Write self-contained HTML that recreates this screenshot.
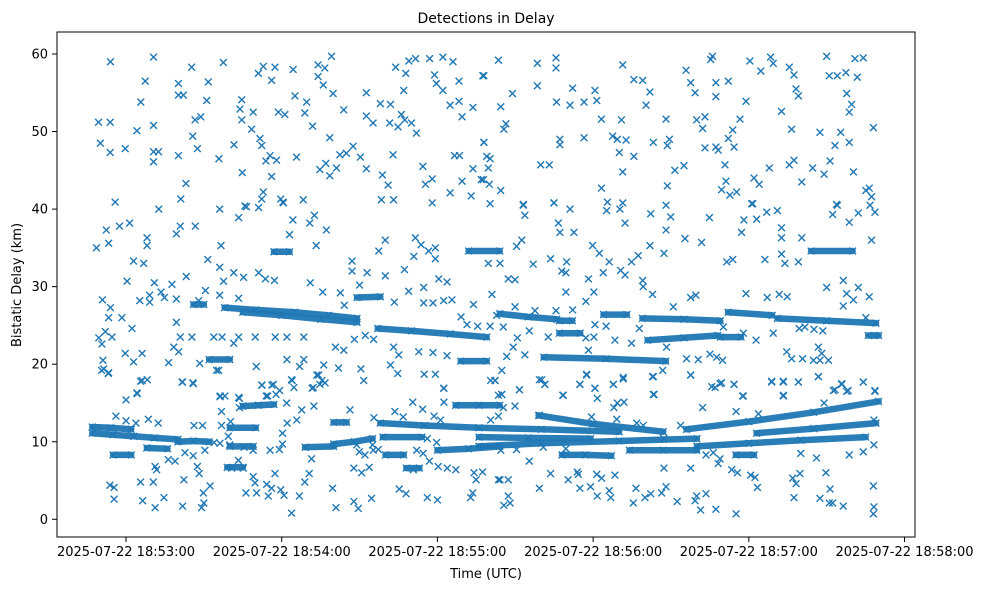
<!DOCTYPE html>
<html><head><meta charset="utf-8"><style>
html,body{margin:0;padding:0;background:#fff;}
svg{display:block;font-family:"DejaVu Sans","Liberation Sans",sans-serif;}
</style></head><body>
<svg id="chart" width="989" height="590" viewBox="0 0 989 590" xmlns="http://www.w3.org/2000/svg">
<rect width="989" height="590" fill="#fff"/>
<text x="486" y="23" font-size="14" text-anchor="middle" fill="#000">Detections in Delay</text>
<g id="marks"></g>
<rect x="57" y="32" width="858" height="505" fill="none" stroke="#000" stroke-width="1"/>
<g id="xaxis"></g>
<g id="yaxis"></g>
<text x="486" y="578" font-size="13" text-anchor="middle">Time (UTC)</text>
<text x="21" y="285" font-size="13" text-anchor="middle" transform="rotate(-90 21 285)">Bistatic Delay (km)</text>
</svg>
<script>
// time = seconds after 18:52:00 UTC, delay in km
const xTickSeconds = [60,120,180,240,300,360];
const xTickLabels = ["2025-07-22 18:53:00","2025-07-22 18:54:00","2025-07-22 18:55:00","2025-07-22 18:56:00","2025-07-22 18:57:00","2025-07-22 18:58:00"];
const yTickValues = [0,10,20,30,40,50,60];
const yTickLabels = ["0","10","20","30","40","50","60"];

// dense tracks (keypoints)
const trackTimes = [
[47,54,62],[47,55,63,71,80],[80,86,92],[55,62],[68,76],[100,110],[105,111,117],[100,109],[129,140],[140,148,155],
[158,175,196,220,250],[219,240,267],[276,300,325,350],[159,174],[180,192,204],[196,215,239],[196,220,250,280],[254,267,280],
[280,300,320,345],[303,325,349],[228,237,247],[295,302],[187,196,204],[140,145],[168,173],[99,105],[160,167],
[98,110,125,138,149],[105,120,135,149],[157,170,185,199],[149,158],[117,123],[192,204],[92,100],[189,199],[86,90],
[204,215,226],[227,232],[227,235],[221,245,268],[244,253],[259,275,289],[261,275,288],[289,297],[292,309],[311,330,349],[324,340],[346,350]
];
const trackDelays = [
[11.9,11.8,11.6],[11.1,10.9,10.7,10.5,10.3],[10.0,10.1,10.0],[8.3,8.3],[9.2,9.1],[11.8,11.8],[14.6,14.7,14.8],[9.4,9.4],[9.3,9.4],[9.7,10.0,10.4],
[12.4,12.1,11.8,11.6,11.3],[13.4,12.3,11.3],[11.6,12.6,13.8,15.2],[10.6,10.6],[8.9,9.1,9.4],[10.6,10.5,10.4],[9.4,9.8,10.1,10.4],[8.9,8.9,8.9],
[9.4,9.8,10.2,10.6],[11.1,11.7,12.4],[8.3,8.3,8.2],[8.3,8.3],[14.7,14.7,14.7],[12.5,12.5],[6.6,6.6],[6.7,6.7],[8.3,8.3],
[27.3,27.0,26.7,26.3,25.9],[26.7,26.3,25.8,25.4],[24.6,24.3,23.9,23.5],[28.6,28.7],[34.5,34.5],[34.6,34.6],[20.6,20.6],[20.4,20.4],[27.7,27.7],
[26.5,26.1,25.8],[25.6,25.6],[24.0,24.0],[20.9,20.7,20.4],[26.4,26.4],[25.9,25.8,25.6],[23.1,23.4,23.7],[23.5,23.5],[26.7,26.3],[25.9,25.6,25.3],[34.6,34.6],[23.7,23.7]
];

// isolated detections
const noiseTimes = [
54,70.6,67.4,85.3,97.5,80.2,91.7,80.2,82.1,65.7,91.1,112.9,111,117.4,116.1,124.4,134,139.2,136.6,134,136,139.8,125.1,129.6,104.6,103.9,109,118.7,121.2,128.9,49.4,53.9,64.2,70.6,86.6,88.8,104.6,108.4,111.6,112.3,85.7,50.1,53.9,59.7,70.6,72.5,70.6,80.2,87.5,95.8,101.6,104.8,83.1,115.5,113.9,118,125.7,116.1,131.9,138.5,143.9,152.6,152.6,155.2,158,161.9,161.6,164.8,166.1,167.4,170,171.9,163.9,167.8,169,171.6,177,182.1,186,178.9,179.6,182.1,188.3,167,184.9,188.3,193.7,189.5,197.5,147.5,142.4,144.9,150.3,152.6,162.9,141.1,137,134.7,138.5,158.8,161,174.4,178,175.4,186.6,188.5,193.7,189.5,196.9,197.9,184.9,158.4,163.1,178,193,55.8,81.1,112.9,112.3,119.6,120.6,128.3,105.8,
197.9,203.5,218.5,225.7,225.7,218.5,208.9,204.4,206.4,205.6,197.9,199,200.3,199.6,197.7,200,204.4,225.9,231.1,236.5,232.1,240.7,241.4,251.4,255.7,259.1,261.9,260.4,227.2,227.2,236.5,243.2,250.9,247.5,249.3,252.7,250.1,255.7,219.8,223.1,251.4,243.2,245.5,251.4,224.9,213.1,200.3,263.2,269.4,268.6,268.1,275.8,277.6,279.3,286,285.3,287.3,292.1,287.3,298.9,279.9,283.1,282.2,296.6,293.8,292.1,294.3,283.1,287.3,288.2,271.5,275,290.8,291.2,289.5,292.7,295.3,268.6,300.4,304.6,308.4,309.4,315.6,317.4,318.2,319.1,330,331,334.1,337.4,341.8,340.9,344.1,337.7,339.6,338.7,312.6,316.5,327.4,335.4,333.2,338.7,348,302,304,307.9,315.6,317.4,324.6,320.4,329,331.3,340.3,345.1,346.4,347.3,301.1,333.8,
72.6,96.1,103.4,106.4,111.1,120.5,52.4,57.5,61.4,48.6,53.3,68.1,68.1,79.4,80.9,86.7,96.6,124.3,123,130.8,132.6,137.2,133.3,62.9,66.8,91.5,96.1,60.4,70.9,77.7,83.2,101.5,105.3,111.1,113.7,117.2,97.6,50.9,54,65.3,69.1,69.1,73.5,74.8,79.4,90.6,96.1,103.4,88,53.3,58.4,62.3,52,49.5,54.6,50.7,79.4,80.9,85.4,93.8,97,103.4,101.5,109.8,117.5,122,128.5,78.4,80.3,59.7,66.2,62.9,51.1,51.4,53.3,76.4,88.4,95.7,110.2,122,128.5,126.9,131,135.8,142.6,144.1,147.1,147.1,152.9,150,159.9,157.4,159.9,167.3,171.5,173.7,170.9,176.6,179.2,179.2,168.9,174.7,180.5,183.7,163.4,174.7,178.3,182.4,185.6,193.9,189.1,191.4,195.5,140.7,143.9,148,152.2,155.4,163.1,165.1,161.9,172.8,178.3,183.7,150.5,151.6,164.7,174.9,179.2,182.4,141.9,136.2,134.2,135.5,131.7,124,112.4,116.2,119.2,81.6,85.8,66.2,64.2,96.3,103.4,114.6,
213.1,213.7,224.9,231.1,226.6,227.2,232.6,245.2,250.3,252.3,262.2,268.1,269.9,268.1,284.8,275.4,281.8,297.2,298.1,303,306.9,311,301.5,312.6,312.6,320.4,332.3,334.1,338.7,342.2,348.6,346.7,347.3,212.5,210.5,199.6,204.1,216.9,223.6,229.8,227.9,229.5,239.8,242.4,246.2,243.9,250.6,252.3,254.8,257.4,261.9,267.3,291.5,293.8,306.2,312.6,313.9,319.1,207.3,209.9,238.2,259.1,259.3,330,336.4,342.2,337.7,340.3,336.4,346.4,201,229.5,237.2,240.3,262.9,277.6,279.6,298.9,307.1,311.7,314.8,328.5,345.1,348.6,209.9,217.6,225.7,232.1,202.8,200.3,205.4,215.4,210.8,222.7,240.3,237.2,248.4,254.8,257.8,209.2,206.7,213.7,238.2,240.7,245,270.9,290.2,297.9,302.8,309.4,321.6,325.1,319.4,314.6,316.5,320.7,326.8,328.1,324.9,330.7,327.4,268.3,276,280.5,285,287.6,289.9,266.8,263.2,277.6,237.5,234.9,240.7,247.8,251.6,220.2,221.4,202.2,211.6,204.8,228.5,263.2,287,289.5,294.3,297.9,308.8,313.3,319.1,313.3,326.8,332.6,335.8,337.7,344.1,348.6,
50.6,53.2,60,64.3,65.6,68.2,81.8,85.9,94.9,96.2,98.1,96.8,103.7,103.7,112.3,116.8,114,117.8,121.9,123.8,124.7,133.5,134.7,136.7,132.2,56.1,60,63.8,68.6,72.4,127.7,132.4,125.8,122.1,120.3,120.3,119.1,115.5,109,105.5,100,96.2,93.9,99.4,96.8,100.3,86.2,89.5,90.4,85.9,87.5,88.2,82.7,76.3,78.9,71.2,71.8,65.6,70.5,82.3,53.8,55.4,55.4,66.4,71.2,74.6,81.8,89.1,90,89.8,92.4,103.3,105.2,100.7,109,109.7,106.2,110.3,114.2,117.4,116.1,114.8,119.6,120.9,123.8,126.8,128.9,130.6,131.5,139.6,140.9,147.8,147.8,149.5,150.8,153.7,154.6,146.3,155.5,163.6,170.5,174.3,182.5,182.5,178.7,166.8,176.1,176.9,180.3,183.8,187.1,176.1,180,173,170.7,165.3,167.9,194.1,192.8,193.6,194.9,197.4,203.5,200.5,203.5,179.7,172,174.5,149.9,152.1,155.3,157.2,155,148.9,181.2,200.5,
202.2,204.8,204.8,211.6,209.9,219.3,221.4,228.3,234.9,237.5,240.7,241.6,247.8,251.6,249.3,251.9,263.5,262.9,277.6,248,282.2,285.7,288.9,294.3,297.6,295.1,303.7,308.8,313.3,313.3,319.1,326.8,333.2,335.8,338.3,344.1,348.6,329,215.4,223.6,230.4,234.3,233.9,241.4,243.3,248.4,204.1,207.3,207.3,205.6,208,219.3,234.9,239,241.6,246.2,246.8,255.5,256.5,260,262.2,266.4,268.1,267.3,277.6,272.4,279.3,279.9,283.5,281.4,287.3,295.1,293.4,295.6,300.7,302.4,303.3,316.9,318.2,319.7,317.4,326.1,329.7,331.3,327.4,331,332.3,336.4,338.7,344.1,348.2,348,348.2,348,320,210.5,204.4,205.4,203.5,219.3,239.4,249.1,256.8,259.3,267.3,273.7,283.5,286.3,288.2,288.9,229.5,220.8,348.2
];
const noiseDelays = [
59.0,59.6,56.5,58.3,58.9,56.2,56.4,54.7,54.7,53.8,54.0,58.4,57.5,58.3,56.6,58.0,58.6,59.7,58.2,57.1,56,54.9,54.6,53.8,54.1,52.9,52.5,52.5,52.2,52.4,51.2,51.2,50.1,50.8,51.5,51.9,51.5,50.3,49.1,48.2,49.4,48.5,47.3,47.8,47.4,47.4,46.1,46.9,47.8,46.5,48.3,44.7,43.3,46.9,46.2,46.3,46.7,44.2,50.7,49.2,52.8,55,52,51.1,53.6,53.5,51.1,50.6,52.2,51.5,51.1,49.8,58.3,57.5,59.1,59.4,59.4,59.6,59,57.3,56.2,55.3,56.5,55.3,53.4,53.9,53.1,51.9,57.2,48.1,47,47.2,46.7,45.2,47,45.3,45.9,45.1,44.3,44.4,43.1,45.5,43.9,43.2,46.9,46.9,45.2,43.6,43.8,48.6,42.1,41.2,41.2,40.8,41.7,40.9,41.3,42.2,41.3,41.3,40.8,41.2,40.4,
57.2,59.2,58.8,59.5,58.2,55.9,54.9,53.2,51.0,50.3,48.6,46.8,46.5,45.3,43.8,43.2,42.4,53.8,53.4,53.8,55.6,55.3,54,58.6,56.7,56.6,55.1,53.4,49,48.3,49.2,51.6,51.5,49.4,49,48.9,47.3,46.8,45.7,45.7,44.8,42.7,40.9,40.8,40.8,40.6,40.7,48.6,49,48.2,51.6,57.9,56.3,55,59.7,59.3,56.3,56.5,54.5,53.9,51.5,51.9,50.4,51.6,50.2,49.1,48,47.9,48,47.6,45,45.6,45.7,43.6,42.5,41.8,42.2,43,59.1,57.8,59.6,58.8,58.3,57.3,55.5,54.6,59.7,57.2,57.2,57.6,57,59.4,59.5,54.9,53.5,52.5,52.6,50.3,49.9,49.9,48.2,48.6,50.5,44,43.2,45.3,45.7,46.3,45.3,43.5,44.5,46.2,44.8,42.4,42.7,41.6,40.7,40.6,
40.0,40.0,38.9,40.3,40.2,40.9,37.3,37.8,38.2,35,35.6,36.3,35.3,36.8,37.8,37.8,35.3,38.6,36.7,38.2,39.2,37.3,35.3,33.3,33.0,33.5,32.5,30.7,30.5,30.3,31.3,31.8,31.2,31.8,31.0,30.8,30.7,28.3,27.3,28.2,28.9,28.0,29.3,28.6,28.4,29.5,28.9,28.5,28.2,26,26,24.6,24.2,23.4,23.5,22.6,25.4,23.5,23.5,23.5,23.5,23.5,22.7,23.5,23.5,23.5,23.5,22.2,21.6,21.4,21.4,20.3,20.5,19.4,18.9,20.2,20.1,19.2,19.7,20.6,20.6,19.7,30.5,29.3,29.2,27.6,33.3,32,31.8,30.2,31.4,34.6,36.0,32.2,36.3,35.4,33.9,34.6,35,33.6,29.4,29.9,31,30.6,28,27.9,27.9,28.2,28.3,27.7,26.1,25.1,24.9,22.2,21.8,23.2,23.7,23.2,22.2,21.2,19.9,21.6,21.5,21.1,19.4,17.9,18.8,18.7,18.7,16.9,19.5,19.9,18.6,17.9,16.9,17.9,17.3,17.3,16.6,17.7,17.6,17.9,16.3,15.9,15.7,15.9,
40.5,39.2,40.8,40.0,38.2,37.0,37.0,39.8,40.0,38.2,39.4,40.5,39.0,37.3,38.9,36.2,35.7,37.0,38.6,38.7,39.6,39.8,40.7,37.6,36.3,36.3,39.3,40.5,38.3,39.5,39.6,40.5,36.0,36,35.2,33.0,33.0,32.9,33.6,33.2,32.0,31.8,35.3,34.3,33.2,31.8,32.1,31.5,33.2,34.0,35.3,34.3,33.2,33.5,33.5,34.2,33.0,33.2,31,30.9,31.0,30.8,30,29.9,30.8,29.9,29.1,28.3,27.5,28.7,29.0,29.3,28.1,29.3,29,28.6,28.9,29.1,28.6,29.0,28.7,24.3,26.0,23.7,27.4,26.9,26.9,27.0,26.3,24.9,24.8,24.3,23.4,23.5,23.5,23.4,23.1,22.7,24.6,22.2,21,21.2,21.8,25.1,24.9,27.4,24.8,24.0,23.1,24.0,24.8,24.5,24.6,21.6,20.7,20.7,22.2,21.4,20.5,20.5,20.5,22.2,20.7,20.6,21.3,20.9,20.5,19.2,18.4,18.6,18.7,17.4,16.9,17.4,18.1,18.0,17.4,17.9,16.7,16.1,16.0,16.1,17.0,17.6,17.4,15.9,17.7,17.7,17.7,16.0,18.4,16.6,17.4,16.5,17.7,16.5,
19.2,18.8,15.4,16.2,17.8,18.0,17.7,17.5,19.2,15.8,15.9,13.9,15.6,14.4,17.3,17.4,15.9,16.1,15.0,18.0,17.0,18.6,17.4,17.6,17.0,13.3,12.7,12.4,12.9,12.4,14.1,14.6,12.8,12.4,11.1,9.7,9.0,8.9,8.9,9.3,9.6,9.8,9.9,10.7,12.1,12.6,12.1,12.1,8.9,8.2,6.8,5.9,8.6,7.7,7.5,6.8,6.4,4.8,4.8,5.1,4.4,4.1,2.6,2.4,1.5,2.8,1.7,1.5,2.1,3.4,4.3,7.6,6.6,6.6,5.5,4.7,3.4,3.4,4.5,5.9,4.0,3.0,3.8,3.1,0.8,3.0,4.8,5.9,7.8,4.0,1.5,6.6,2.3,1.4,6.0,6.7,2.7,14.1,13.1,13.9,15.1,14.2,16.9,15.1,13.3,13.2,10.4,7.5,6.8,6.6,6.4,2.8,2.5,6.6,6.4,3.9,3.3,6.0,2.8,3.4,5.1,6.1,5.1,17.9,16.0,9.9,8.9,8.5,8.7,8.3,8.9,9.0,9.6,9.6,12.8,12.8,
17.9,19.2,16.1,16.7,14.6,18.0,17.4,16.0,17.4,18.6,16.9,15.6,17.4,18.3,15.0,15.1,16.1,18.4,18.6,14.4,14.4,17.1,17.5,17.4,15.9,13.9,13.6,17.8,17.8,15.9,17.7,18.4,16.7,17.5,16.6,17.7,16.6,15.0,7.5,5.9,5.1,5.8,6.1,5.8,5.3,5.7,5.1,5.1,3.0,1.8,2.1,4.0,4.0,4.2,3.0,3.7,2.8,2.1,4.0,2.8,3.3,3.4,4.2,6.6,6.6,2.3,2.4,3.0,3.3,1.2,1.3,0.7,6.4,6.0,5.7,5.4,4.1,5.3,4.6,5.9,2.8,7.9,6.0,3.9,2.7,2.1,2.1,1.7,8.3,8.7,9.6,4.3,1.6,0.7,8.5,9.0,8.9,14.4,13.3,13.4,13.2,12.9,12.4,12.1,10.4,12.1,8.3,8.6,7.2,7.8,9.1,9.3,12.8
];

const NS = "http://www.w3.org/2000/svg";
const T0 = 33.4, PXS = 2.595, XL = 57;
function xScale(t){ return XL + (t - T0) * PXS; }
function yScale(v){ return 519.3 - v * 7.755; }
const COLOR = "#1f77b4";
const marks = document.getElementById("marks");

function drawX(t, v, name){
  const cx = xScale(t), cy = yScale(v), r = 3.4;
  const p = document.createElementNS(NS, "path");
  p.setAttribute("d", `M${cx-r},${cy-r}L${cx+r},${cy+r}M${cx-r},${cy+r}L${cx+r},${cy-r}`);
  p.setAttribute("stroke", COLOR);
  p.setAttribute("stroke-width", "1.4");
  p.setAttribute("fill", "none");
  
  
  marks.appendChild(p);
}

for (let i = 0; i < noiseTimes.length && i < noiseDelays.length; i++) {
  drawX(noiseTimes[i], noiseDelays[i], "detection-point");
}

for (let k = 0; k < trackTimes.length; k++) {
  const ts = trackTimes[k], vs = trackDelays[k];
  const pts = ts.map((t, i) => xScale(t).toFixed(1) + "," + yScale(vs[i]).toFixed(1)).join(" ");
  const pl = document.createElementNS(NS, "polyline");
  pl.setAttribute("points", pts);
  pl.setAttribute("stroke", COLOR);
  pl.setAttribute("stroke-width", "6.5");
  pl.setAttribute("stroke-linecap", "round");
  pl.setAttribute("fill", "none");
  pl.setAttribute("opacity", "0.95");
  
  
  marks.appendChild(pl);
  for (let i = 0; i < ts.length; i++) drawX(ts[i], vs[i], "track-point");
}

const xa = document.getElementById("xaxis");
xTickSeconds.forEach((s, i) => {
  const x = xScale(s);
  const ln = document.createElementNS(NS, "line");
  ln.setAttribute("x1", x); ln.setAttribute("x2", x);
  ln.setAttribute("y1", 537); ln.setAttribute("y2", 542);
  ln.setAttribute("stroke", "#000");
  
  
  xa.appendChild(ln);
  const tx = document.createElementNS(NS, "text");
  tx.setAttribute("x", x); tx.setAttribute("y", 556);
  tx.setAttribute("font-size", "13");
  tx.setAttribute("text-anchor", "middle");
  tx.textContent = xTickLabels[i];
  
  
  xa.appendChild(tx);
});
const ya = document.getElementById("yaxis");
yTickValues.forEach((v, i) => {
  const y = yScale(v);
  const ln = document.createElementNS(NS, "line");
  ln.setAttribute("x1", 52); ln.setAttribute("x2", 57);
  ln.setAttribute("y1", y); ln.setAttribute("y2", y);
  ln.setAttribute("stroke", "#000");
  
  
  ya.appendChild(ln);
  const tx = document.createElementNS(NS, "text");
  tx.setAttribute("x", 48); tx.setAttribute("y", y + 4.5);
  tx.setAttribute("font-size", "13");
  tx.setAttribute("text-anchor", "end");
  tx.textContent = yTickLabels[i];
  
  
  ya.appendChild(tx);
});
</script>
</body></html>
